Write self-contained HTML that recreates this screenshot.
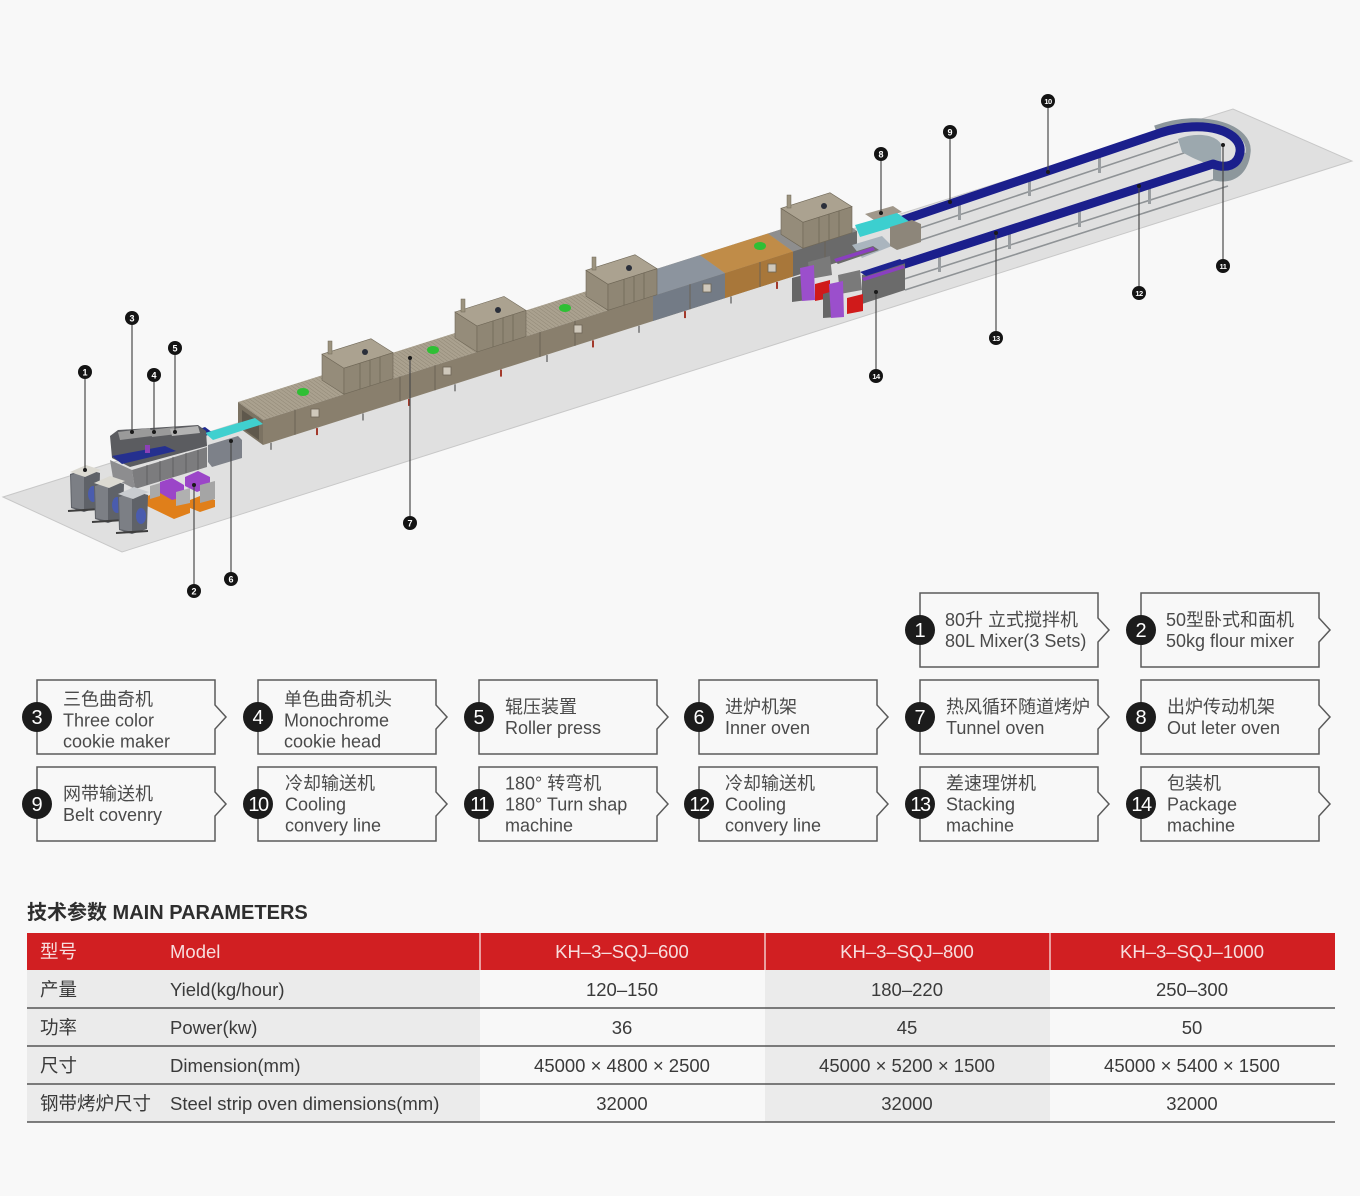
<!DOCTYPE html>
<html><head><meta charset="utf-8">
<style>
*{margin:0;padding:0;box-sizing:border-box}
html,body{width:1360px;height:1196px;background:#f8f8f8;overflow:hidden}
body{position:relative}
svg{position:absolute;left:0;top:0}
svg text{font-family:"Liberation Sans","Noto Sans CJK SC",sans-serif}
.lg{font-size:18px;fill:#4a4a4a}
.num{font-size:20px;fill:#fff}
.lab{font-size:9px;font-weight:bold;fill:#fff}
.tb{font-size:18.5px;fill:#3a3a3a}
.th{font-size:18.5px;fill:#f7dede}
</style></head>
<body>
<svg width="1360" height="1196" viewBox="0 0 1360 1196">
<defs>
<pattern id="slat" width="5" height="10" patternUnits="userSpaceOnUse" patternTransform="skewX(54)">
<rect width="5" height="10" fill="#aaa18f"/>
<line x1="0.5" y1="0" x2="0.5" y2="10" stroke="#958c7a" stroke-width="1"/>
</pattern>
</defs>

<!-- floor -->
<polygon points="3,497 122,552 1352,161 1233,109" fill="#e0e0e0" stroke="#c8c8c8" stroke-width="1"/>

<!-- loop rails -->
<g stroke="#8f9396" stroke-width="1.6" fill="none">
<line x1="905" y1="233" x2="1178" y2="142"/>
<line x1="912" y1="243" x2="1190" y2="151"/>
<line x1="898" y1="281" x2="1222" y2="177"/>
<line x1="905" y1="290" x2="1228" y2="186"/>
</g>
<g fill="#9a9ea1">
<rect x="958" y="204" width="3" height="16"/><rect x="1028" y="180" width="3" height="16"/><rect x="1098" y="157" width="3" height="16"/>
<rect x="938" y="256" width="3" height="16"/><rect x="1008" y="233" width="3" height="16"/><rect x="1078" y="211" width="3" height="16"/><rect x="1148" y="188" width="3" height="16"/>
</g>
<!-- U walls -->
<path d="M1155,128 C1205,110 1252,128 1248,153 C1246,172 1232,180 1218,176" stroke="#8d979c" stroke-width="5" fill="none"/>
<path d="M1240,150 C1240,165 1228,172 1213,168 L1213,180 C1232,186 1249,174 1249,155 Z" fill="#8d979c"/>
<path d="M1178,139 C1195,132 1215,134 1221,144 L1221,168 C1212,166 1195,160 1182,152 Z" fill="#9ca8ae"/>
<!-- loop belt -->
<path d="M900,221 L1160,133 C1205,118 1243,132 1240,152 C1238,166 1226,169 1213,164 L892,268" stroke="#1b1f8c" stroke-width="9" fill="none" stroke-linejoin="round"/>

<!-- oven -->
<polygon points="238,402 263,420 263,445 238,427" fill="#7b7262"/>
<polygon points="242,410 259,422 259,440 242,428" fill="#5f584c"/>
<polygon points="238,402 832,213.1 857,231.1 263,420" fill="url(#slat)"/>
<polygon points="263,420 857,231.1 857,256.1 263,445" fill="#897f6d"/>
<!-- gray section -->
<polygon points="628,278 700,255.1 725,273.1 653,296" fill="#8c949e"/>
<polygon points="653,296 725,273.1 725,298.1 653,321" fill="#737b86"/>
<!-- orange section -->
<polygon points="700,255.1 768,233.5 793,251.5 725,273.1" fill="#c08c48"/>
<polygon points="725,273.1 793,251.5 793,276.5 725,298.1" fill="#a8773a"/>
<!-- last section -->
<polygon points="768,233.5 832,213.1 857,231.1 793,251.5" fill="#8e8e8e"/>
<polygon points="793,251.5 857,231.1 857,256.1 793,276.5" fill="#6a6a6a"/>
<!-- front dividers -->
<g stroke="#6b6355" stroke-width="1">
<line x1="295" y1="409.8" x2="295" y2="434.8"/>
<line x1="400" y1="376.4" x2="400" y2="401.4"/>
<line x1="435" y1="365.3" x2="435" y2="390.3"/>
<line x1="540" y1="331.9" x2="540" y2="356.9"/>
<line x1="575" y1="320.8" x2="575" y2="345.8"/>
<line x1="690" y1="284.2" x2="690" y2="309.2"/>
<line x1="760" y1="262" x2="760" y2="287"/>
<line x1="825" y1="241.3" x2="825" y2="266.3"/>
</g>
<!-- windows -->
<g fill="#cfc8bb" stroke="#6d6555" stroke-width="0.8">
<rect x="311" y="409" width="8" height="8"/>
<rect x="443" y="367" width="8" height="8"/>
<rect x="574" y="325" width="8" height="8"/>
<rect x="703" y="284" width="8" height="8"/>
<rect x="768" y="264" width="8" height="8"/>
</g>
<!-- legs -->
<g>
<rect x="270" y="442.8" width="2" height="7" fill="#8e8e8e"/>
<rect x="316" y="428.1" width="2" height="7" fill="#a33a2c"/>
<rect x="362" y="413.5" width="2" height="7" fill="#8e8e8e"/>
<rect x="408" y="398.9" width="2" height="7" fill="#a33a2c"/>
<rect x="454" y="384.3" width="2" height="7" fill="#8e8e8e"/>
<rect x="500" y="369.6" width="2" height="7" fill="#a33a2c"/>
<rect x="546" y="355" width="2" height="7" fill="#8e8e8e"/>
<rect x="592" y="340.4" width="2" height="7" fill="#a33a2c"/>
<rect x="638" y="325.8" width="2" height="7" fill="#8e8e8e"/>
<rect x="684" y="311.1" width="2" height="7" fill="#a33a2c"/>
<rect x="730" y="296.5" width="2" height="7" fill="#8e8e8e"/>
<rect x="776" y="281.9" width="2" height="7" fill="#a33a2c"/>
<rect x="822" y="267.2" width="2" height="7" fill="#8e8e8e"/>
</g>

<!-- hoods -->
<g stroke="#6f6757" stroke-width="0.6">
<polygon points="322,354.2 344,368.2 344,394.2 322,380.2" fill="#958c7a"/>
<polygon points="322,354.2 371,338.7 393,352.7 344,368.2" fill="#aba290"/>
<polygon points="344,368.2 393,352.7 393,378.7 344,394.2" fill="#8f8674"/>
<polygon points="455,312 477,326 477,352 455,338" fill="#958c7a"/>
<polygon points="455,312 504,296.4 526,310.4 477,326" fill="#aba290"/>
<polygon points="477,326 526,310.4 526,336.4 477,352" fill="#8f8674"/>
<polygon points="586,270.3 608,284.3 608,310.3 586,296.3" fill="#958c7a"/>
<polygon points="586,270.3 635,254.7 657,268.7 608,284.3" fill="#aba290"/>
<polygon points="608,284.3 657,268.7 657,294.7 608,310.3" fill="#8f8674"/>
<polygon points="781,208.3 803,222.3 803,248.3 781,234.3" fill="#958c7a"/>
<polygon points="781,208.3 830,192.7 852,206.7 803,222.3" fill="#aba290"/>
<polygon points="803,222.3 852,206.7 852,232.7 803,248.3" fill="#8f8674"/>
</g>
<g stroke="#6f6757" stroke-width="0.8">
<line x1="360" y1="363" x2="360" y2="389"/><line x1="370" y1="360" x2="370" y2="386"/><line x1="380" y1="357" x2="380" y2="383"/>
<line x1="493" y1="321" x2="493" y2="347"/><line x1="503" y1="318" x2="503" y2="344"/><line x1="513" y1="315" x2="513" y2="341"/>
<line x1="624" y1="279" x2="624" y2="305"/><line x1="634" y1="276" x2="634" y2="302"/><line x1="644" y1="273" x2="644" y2="299"/>
<line x1="819" y1="217" x2="819" y2="243"/><line x1="829" y1="214" x2="829" y2="240"/><line x1="839" y1="211" x2="839" y2="237"/>
</g>
<!-- chimneys -->
<g fill="#9c937f" stroke="#6f6757" stroke-width="0.5">
<rect x="328" y="341" width="4" height="13"/>
<rect x="461" y="299" width="4" height="13"/>
<rect x="592" y="257" width="4" height="13"/>
<rect x="787" y="195" width="4" height="13"/>
</g>
<g fill="#2a2f3a">
<circle cx="365" cy="352" r="3"/><circle cx="498" cy="310" r="3"/><circle cx="629" cy="268" r="3"/><circle cx="824" cy="206" r="3"/>
</g>
<!-- fans -->
<g fill="#2fbf35">
<ellipse cx="303" cy="392" rx="6" ry="4"/>
<ellipse cx="433" cy="350" rx="6" ry="4"/>
<ellipse cx="565" cy="308" rx="6" ry="4"/>
<ellipse cx="760" cy="246" rx="6" ry="4"/>
</g>

<!-- outlet conveyor 8 -->
<polygon points="852,245 882,236 892,246 862,258" fill="#aab5be"/>
<polygon points="865,214 893,206 902,212 874,220" fill="#a0978a"/>
<polygon points="855,225 897,213 910,222 860,237" fill="#3ccfcf"/>
<polygon points="890,227 912,220 921,224 921,242 897,250 890,246" fill="#8d867a"/>

<!-- packaging machines -->
<polygon points="832,259 873,246 879,250 838,264" fill="#6a6a6a"/>
<polygon points="834,259 873,247 875,250 836,262" fill="#8a3fc0"/>
<polygon points="808,262 830,256 832,275 810,279" fill="#7a7a7a"/>
<polygon points="792,278 807,274 807,300 792,302" fill="#666"/>
<polygon points="800,268 814,265 815,300 802,301" fill="#9b4fcc"/>
<polygon points="815,284 830,280 830,298 815,301" fill="#d01a1a"/>
<polygon points="862,275 905,262 905,290 862,304" fill="#6b6b6b"/>
<polygon points="860,272 900,259 906,263 866,276" fill="#1e2390"/>
<polygon points="862,278 903,265 905,268 864,281" fill="#8a3fc0"/>
<polygon points="838,275 860,270 862,290 840,294" fill="#7a7a7a"/>
<polygon points="823,294 837,290 837,317 823,318" fill="#666"/>
<polygon points="829,284 843,281 844,317 831,318" fill="#9b4fcc"/>
<polygon points="847,298 863,294 863,311 847,314" fill="#d01a1a"/>

<!-- inner oven 6 -->
<polygon points="188,433 205,427 213,433 195,440" fill="#1e2a90"/>
<polygon points="205,433 255,418 263,424 213,440" fill="#40d0cf"/>
<polygon points="208,445 238,436 242,440 242,458 212,467 208,462" fill="#7d8189"/>

<!-- cookie maker 3-5 -->
<polygon points="110,436 118,430 198,425 206,431 207,446 130,467 112,458" fill="#5b5c60"/>
<polygon points="118,432 150,428 152,436 120,440" fill="#9a9a9a"/>
<polygon points="150,430 175,427 177,434 152,437" fill="#9a9a9a"/>
<polygon points="170,429 198,426 200,433 172,436" fill="#b3b3b3"/>
<polygon points="112,456 165,446 176,451 122,464" fill="#25308f"/>
<polygon points="110,460 132,470 135,489 113,478" fill="#8d8d8f"/>
<polygon points="132,470 207,447 207,467 135,489" fill="#7c7c7e"/>
<g stroke="#5a5a5c" stroke-width="0.8">
<line x1="147" y1="465" x2="147" y2="485"/><line x1="160" y1="461" x2="160" y2="481"/><line x1="173" y1="457" x2="173" y2="477"/><line x1="186" y1="453" x2="186" y2="473"/><line x1="198" y1="450" x2="198" y2="470"/>
</g>
<rect x="145" y="445" width="5" height="8" fill="#8c40b8"/>

<!-- flour mixers 2 -->
<polygon points="145,497 158,492 190,503 190,513 174,519 145,505" fill="#e07f1a"/>
<polygon points="150,486 160,483 160,496 150,499" fill="#a9a9a9"/>
<polygon points="160,482 172,478 184,485 184,497 172,500 160,493" fill="#9b45c8"/>
<polygon points="176,492 190,488 190,503 176,506" fill="#b0b0b0"/>
<polygon points="190,500 200,496 215,500 215,507 200,512 190,508" fill="#e07f1a"/>
<polygon points="185,477 198,471 210,477 210,487 197,492 185,486" fill="#9b45c8"/>
<polygon points="200,485 215,481 215,499 200,503" fill="#a5a5a5"/>

<!-- mixers 1 -->
<g>
<polygon points="70,474 86,469 100,473 99,507 84,512 71,508" fill="#5f6268"/>
<polygon points="71,475 84,471 84,510 72,507" fill="#7c7f85"/>
<polygon points="70,472 86,465 101,470 85,477" fill="#dcdad2"/>
<ellipse cx="93" cy="494" rx="5" ry="8" fill="#4a5cae"/>
<line x1="68" y1="511" x2="100" y2="509" stroke="#3e3e3e" stroke-width="2"/>
</g>
<g transform="translate(24,11)">
<polygon points="70,474 86,469 100,473 99,507 84,512 71,508" fill="#5f6268"/>
<polygon points="71,475 84,471 84,510 72,507" fill="#7c7f85"/>
<polygon points="70,472 86,465 101,470 85,477" fill="#dcdad2"/>
<ellipse cx="93" cy="494" rx="5" ry="8" fill="#4a5cae"/>
<line x1="68" y1="511" x2="100" y2="509" stroke="#3e3e3e" stroke-width="2"/>
</g>
<g transform="translate(48,22)">
<polygon points="70,474 86,469 100,473 99,507 84,512 71,508" fill="#5f6268"/>
<polygon points="71,475 84,471 84,510 72,507" fill="#7c7f85"/>
<polygon points="70,472 86,465 101,470 85,477" fill="#c9ccd0"/>
<ellipse cx="93" cy="494" rx="5" ry="8" fill="#4a5cae"/>
<line x1="68" y1="511" x2="100" y2="509" stroke="#3e3e3e" stroke-width="2"/>
</g>

<!-- label lines -->
<g stroke="#4a4a4a" stroke-width="1.2">
<line x1="85" y1="379" x2="85" y2="470"/>
<line x1="194" y1="584" x2="194" y2="485"/>
<line x1="132" y1="325" x2="132" y2="432"/>
<line x1="154" y1="382" x2="154" y2="432"/>
<line x1="175" y1="355" x2="175" y2="432"/>
<line x1="231" y1="572" x2="231" y2="441"/>
<line x1="410" y1="516" x2="410" y2="358"/>
<line x1="881" y1="161" x2="881" y2="213"/>
<line x1="950" y1="139" x2="950" y2="202"/>
<line x1="1048" y1="108" x2="1048" y2="172"/>
<line x1="1223" y1="259" x2="1223" y2="145"/>
<line x1="1139" y1="286" x2="1139" y2="186"/>
<line x1="996" y1="331" x2="996" y2="233"/>
<line x1="876" y1="369" x2="876" y2="292"/>
</g>
<g fill="#1a1a1a">
<circle cx="85" cy="470" r="2"/><circle cx="194" cy="485" r="2"/><circle cx="132" cy="432" r="2"/><circle cx="154" cy="432" r="2"/><circle cx="175" cy="432" r="2"/><circle cx="231" cy="441" r="2"/><circle cx="410" cy="358" r="2"/><circle cx="881" cy="213" r="2"/><circle cx="950" cy="202" r="2"/><circle cx="1048" cy="172" r="2"/><circle cx="1223" cy="145" r="2"/><circle cx="1139" cy="186" r="2"/><circle cx="996" cy="233" r="2"/><circle cx="876" cy="292" r="2"/>
</g>
<g fill="#141414">
<circle cx="85" cy="372" r="7"/><circle cx="194" cy="591" r="7"/><circle cx="132" cy="318" r="7"/><circle cx="154" cy="375" r="7"/><circle cx="175" cy="348" r="7"/><circle cx="231" cy="579" r="7"/><circle cx="410" cy="523" r="7"/><circle cx="881" cy="154" r="7"/><circle cx="950" cy="132" r="7"/><circle cx="1048" cy="101" r="7"/><circle cx="1223" cy="266" r="7"/><circle cx="1139" cy="293" r="7"/><circle cx="996" cy="338" r="7"/><circle cx="876" cy="376" r="7"/>
</g>
<g class="lab" text-anchor="middle">
<text x="85" y="375.3">1</text><text x="194" y="594.3">2</text><text x="132" y="321.3">3</text><text x="154" y="378.3">4</text><text x="175" y="351.3">5</text><text x="231" y="582.3">6</text><text x="410" y="526.3">7</text><text x="881" y="157.3">8</text><text x="950" y="135.3">9</text>
<text x="1048" y="104" font-size="7.5" letter-spacing="-0.5">10</text><text x="1223" y="269" font-size="7.5" letter-spacing="-0.5">11</text><text x="1139" y="296" font-size="7.5" letter-spacing="-0.5">12</text><text x="996" y="341" font-size="7.5" letter-spacing="-0.5">13</text><text x="876" y="379" font-size="7.5" letter-spacing="-0.5">14</text>
</g>

<!-- legend boxes -->
<g fill="none" stroke="#5a5a5a" stroke-width="1.5">
<path d="M920,593H1098V618L1109,630L1098,642V667H920Z"/>
<path d="M1141,593H1319V618L1330,630L1319,642V667H1141Z"/>
<path d="M37,680H215V705L226,717L215,729V754H37Z"/>
<path d="M258,680H436V705L447,717L436,729V754H258Z"/>
<path d="M479,680H657V705L668,717L657,729V754H479Z"/>
<path d="M699,680H877V705L888,717L877,729V754H699Z"/>
<path d="M920,680H1098V705L1109,717L1098,729V754H920Z"/>
<path d="M1141,680H1319V705L1330,717L1319,729V754H1141Z"/>
<path d="M37,767H215V792L226,804L215,816V841H37Z"/>
<path d="M258,767H436V792L447,804L436,816V841H258Z"/>
<path d="M479,767H657V792L668,804L657,816V841H479Z"/>
<path d="M699,767H877V792L888,804L877,816V841H699Z"/>
<path d="M920,767H1098V792L1109,804L1098,816V841H920Z"/>
<path d="M1141,767H1319V792L1330,804L1319,816V841H1141Z"/>
</g>
<g fill="#1c1c1c">
<circle cx="920" cy="630" r="15"/><circle cx="1141" cy="630" r="15"/>
<circle cx="37" cy="717" r="15"/><circle cx="258" cy="717" r="15"/><circle cx="479" cy="717" r="15"/><circle cx="699" cy="717" r="15"/><circle cx="920" cy="717" r="15"/><circle cx="1141" cy="717" r="15"/>
<circle cx="37" cy="804" r="15"/><circle cx="258" cy="804" r="15"/><circle cx="479" cy="804" r="15"/><circle cx="699" cy="804" r="15"/><circle cx="920" cy="804" r="15"/><circle cx="1141" cy="804" r="15"/>
</g>
<g class="num" text-anchor="middle">
<text x="920" y="637">1</text><text x="1141" y="637">2</text>
<text x="37" y="724">3</text><text x="258" y="724">4</text><text x="479" y="724">5</text><text x="699" y="724">6</text><text x="920" y="724">7</text><text x="1141" y="724">8</text>
<text x="37" y="811">9</text>
<text x="258" y="811" letter-spacing="-1.5">10</text><text x="479" y="811" letter-spacing="-1.5">11</text><text x="699" y="811" letter-spacing="-1.5">12</text><text x="920" y="811" letter-spacing="-1.5">13</text><text x="1141" y="811" letter-spacing="-1.5">14</text>
</g>
<g class="lg">
<text x="945" y="626">80升 立式搅拌机</text><text x="945" y="647">80L Mixer(3 Sets)</text>
<text x="1166" y="626">50型卧式和面机</text><text x="1166" y="647">50kg flour mixer</text>

<text x="63" y="705.5">三色曲奇机</text><text x="63" y="726.5">Three color</text><text x="63" y="747.5">cookie maker</text>
<text x="284" y="705.5">单色曲奇机头</text><text x="284" y="726.5">Monochrome</text><text x="284" y="747.5">cookie head</text>
<text x="505" y="713">辊压装置</text><text x="505" y="734">Roller press</text>
<text x="725" y="713">进炉机架</text><text x="725" y="734">Inner oven</text>
<text x="946" y="713">热风循环随道烤炉</text><text x="946" y="734">Tunnel oven</text>
<text x="1167" y="713">出炉传动机架</text><text x="1167" y="734">Out leter oven</text>

<text x="63" y="800">网带输送机</text><text x="63" y="821">Belt covenry</text>
<text x="285" y="789.5">冷却输送机</text><text x="285" y="810.5">Cooling</text><text x="285" y="831.5">convery line</text>
<text x="505" y="789.5">180°  转弯机</text><text x="505" y="810.5">180°  Turn shap</text><text x="505" y="831.5">machine</text>
<text x="725" y="789.5">冷却输送机</text><text x="725" y="810.5">Cooling</text><text x="725" y="831.5">convery line</text>
<text x="946" y="789.5">差速理饼机</text><text x="946" y="810.5">Stacking</text><text x="946" y="831.5">machine</text>
<text x="1167" y="789.5">包装机</text><text x="1167" y="810.5">Package</text><text x="1167" y="831.5">machine</text>
</g>

<!-- table -->
<text x="27" y="919" font-size="20" font-weight="bold" fill="#2e2e2e">技术参数 MAIN PARAMETERS</text>
<rect x="27" y="970" width="453" height="152" fill="#ebebeb"/>
<rect x="765" y="970" width="285" height="152" fill="#ebebeb"/>
<rect x="27" y="933" width="1308" height="37" fill="#d11f22"/>
<g stroke="#f3c9c9" stroke-width="1.5">
<line x1="480" y1="933" x2="480" y2="970"/><line x1="765" y1="933" x2="765" y2="970"/><line x1="1050" y1="933" x2="1050" y2="970"/>
</g>
<g stroke="#555" stroke-width="1.6">
<line x1="27" y1="1008" x2="1335" y2="1008"/><line x1="27" y1="1046" x2="1335" y2="1046"/><line x1="27" y1="1084" x2="1335" y2="1084"/><line x1="27" y1="1122" x2="1335" y2="1122"/>
</g>
<g class="th">
<text x="40" y="958">型号</text><text x="170" y="958">Model</text>
<text x="622" y="958" text-anchor="middle">KH–3–SQJ–600</text>
<text x="907" y="958" text-anchor="middle">KH–3–SQJ–800</text>
<text x="1192" y="958" text-anchor="middle">KH–3–SQJ–1000</text>
</g>
<g class="tb">
<text x="40" y="996">产量</text><text x="170" y="996">Yield(kg/hour)</text>
<text x="40" y="1034">功率</text><text x="170" y="1034">Power(kw)</text>
<text x="40" y="1072">尺寸</text><text x="170" y="1072">Dimension(mm)</text>
<text x="40" y="1110">钢带烤炉尺寸</text><text x="170" y="1110">Steel strip oven dimensions(mm)</text>
</g>
<g class="tb" text-anchor="middle">
<text x="622" y="996">120–150</text><text x="907" y="996">180–220</text><text x="1192" y="996">250–300</text>
<text x="622" y="1034">36</text><text x="907" y="1034">45</text><text x="1192" y="1034">50</text>
<text x="622" y="1072">45000 × 4800 × 2500</text><text x="907" y="1072">45000 × 5200 × 1500</text><text x="1192" y="1072">45000 × 5400 × 1500</text>
<text x="622" y="1110">32000</text><text x="907" y="1110">32000</text><text x="1192" y="1110">32000</text>
</g>
</svg>
</body></html>
